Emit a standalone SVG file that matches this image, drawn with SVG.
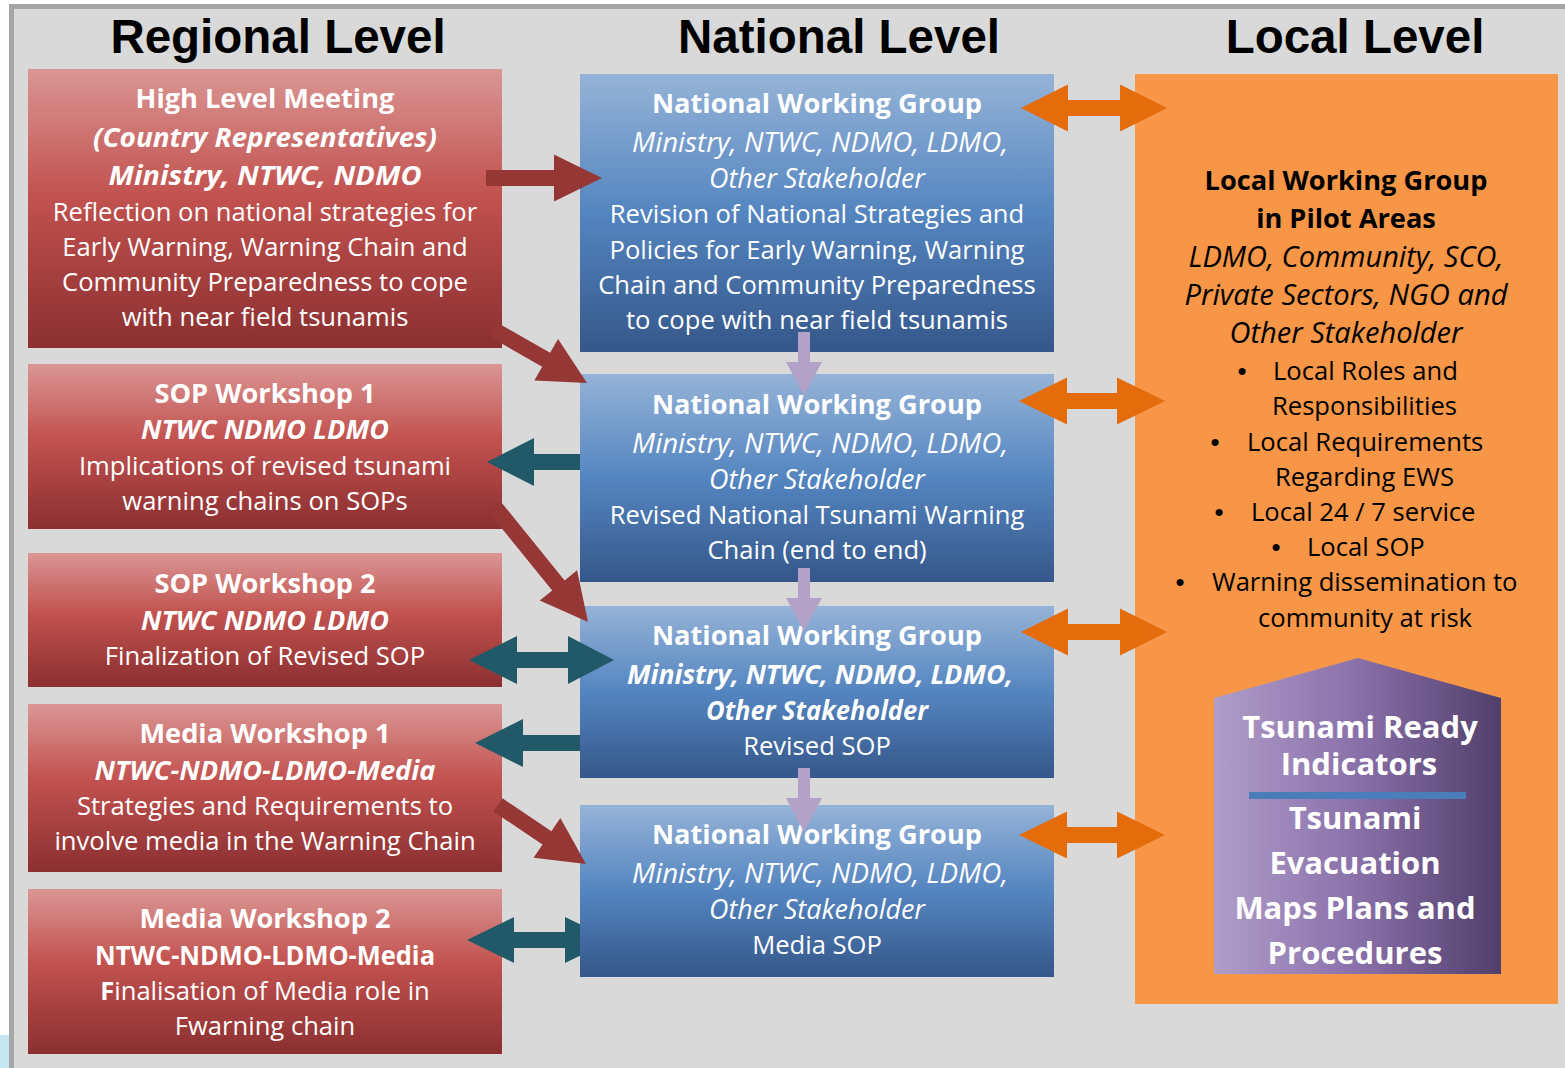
<svg xmlns="http://www.w3.org/2000/svg" width="1565" height="1068" viewBox="0 0 1565 1068">
<defs>
<linearGradient id="gRed" x1="0" y1="0" x2="0" y2="1">
<stop offset="0" stop-color="#da9694"/>
<stop offset="0.45" stop-color="#c2524f"/>
<stop offset="1" stop-color="#8b2f30"/>
</linearGradient>
<linearGradient id="gBlue" x1="0" y1="0" x2="0" y2="1">
<stop offset="0" stop-color="#95b3d7"/>
<stop offset="0.5" stop-color="#5485c0"/>
<stop offset="1" stop-color="#35578a"/>
</linearGradient>
<linearGradient id="gPurple" x1="0" y1="0" x2="1" y2="0">
<stop offset="0" stop-color="#b09dc9"/>
<stop offset="0.5" stop-color="#8a70a9"/>
<stop offset="1" stop-color="#513f6b"/>
</linearGradient>
</defs>
<style>
.hdr{font-family:"Liberation Sans",Arial,sans-serif;font-weight:bold;font-size:47.5px;fill:#000;text-anchor:middle}
.t{font-family:"Open Sans",Lato,sans-serif;font-size:25.6px;fill:#fff;text-anchor:middle}
.b{font-weight:bold;font-size:27.2px}
.i{font-style:italic;font-size:26.5px}
.oi{font-size:28.5px}
.k{fill:#000}
.ks{fill:#000;text-anchor:start}
.bul{font-family:"Liberation Sans",Arial,sans-serif;font-size:26px;fill:#000;text-anchor:middle}
.h{font-weight:bold;font-size:31px}
.red{fill:url(#gRed)}
.blue{fill:url(#gBlue)}
.ar{fill:#953735}
.at{fill:#215968}
.al{fill:#b3a2c7}
.ao{fill:#e46c0a}
</style>
<rect x="0" y="0" width="1565" height="1068" fill="#ffffff"/>
<rect x="0" y="1035" width="10" height="33" fill="#c6e5f2"/>
<rect x="9" y="4" width="1556" height="1064" fill="#a6a6a6"/>
<rect x="14" y="9" width="1551" height="1059" fill="#d9d9d9"/>
<text class="hdr" x="278" y="53">Regional Level</text>
<text class="hdr" x="839" y="53">National Level</text>
<text class="hdr" x="1355" y="53">Local Level</text>

<g id="hlm">
<rect class="red" x="28" y="69" width="474" height="279"/>
<text class="t b" x="265" y="108">High Level Meeting</text>
<text class="t b i" x="265" y="147" textLength="344" lengthAdjust="spacingAndGlyphs">(Country Representatives)</text>
<text class="t b i" x="265" y="185" textLength="313" lengthAdjust="spacingAndGlyphs">Ministry, NTWC, NDMO</text>
<text class="t" x="265" y="221">Reflection on national strategies for</text>
<text class="t" x="265" y="256">Early Warning, Warning Chain and</text>
<text class="t" x="265" y="291">Community Preparedness to cope</text>
<text class="t" x="265" y="326">with near field tsunamis</text>
</g>
<g id="sop1">
<rect class="red" x="28" y="364" width="474" height="165"/>
<text class="t b" x="265" y="403">SOP Workshop 1</text>
<text class="t b i" x="265" y="439" textLength="248" lengthAdjust="spacingAndGlyphs">NTWC NDMO LDMO</text>
<text class="t" x="265" y="475">Implications of revised tsunami</text>
<text class="t" x="265" y="510">warning chains on SOPs</text>
</g>
<g id="sop2">
<rect class="red" x="28" y="553" width="474" height="134"/>
<text class="t b" x="265" y="593">SOP Workshop 2</text>
<text class="t b i" x="265" y="630" textLength="248" lengthAdjust="spacingAndGlyphs">NTWC NDMO LDMO</text>
<text class="t" x="265" y="665">Finalization of Revised SOP</text>
</g>
<g id="media1">
<rect class="red" x="28" y="704" width="474" height="168"/>
<text class="t b" x="265" y="743">Media Workshop 1</text>
<text class="t b i" x="265" y="780" textLength="341" lengthAdjust="spacingAndGlyphs">NTWC-NDMO-LDMO-Media</text>
<text class="t" x="265" y="815">Strategies and Requirements to</text>
<text class="t" x="265" y="850">involve media in the Warning Chain</text>
</g>
<g id="media2">
<rect class="red" x="28" y="889" width="474" height="165"/>
<text class="t b" x="265" y="928">Media Workshop 2</text>
<text class="t b" x="265" y="965" textLength="340" lengthAdjust="spacingAndGlyphs">NTWC-NDMO-LDMO-Media</text>
<text class="t" x="265" y="1000"><tspan font-weight="bold">F</tspan>inalisation of Media role in</text>
<text class="t" x="265" y="1035">Fwarning chain</text>
</g>

<g id="nwg1">
<rect class="blue" x="580" y="74" width="474" height="278"/>
<text class="t b" x="817" y="113">National Working Group</text>
<text class="t i" x="820" y="152" textLength="376" lengthAdjust="spacingAndGlyphs">Ministry, NTWC, NDMO, LDMO,</text>
<text class="t i" x="817" y="188" textLength="216" lengthAdjust="spacingAndGlyphs">Other Stakeholder</text>
<text class="t" x="817" y="223">Revision of National Strategies and</text>
<text class="t" x="817" y="259">Policies for Early Warning, Warning</text>
<text class="t" x="817" y="294">Chain and Community Preparedness</text>
<text class="t" x="817" y="329">to cope with near field tsunamis</text>
</g>
<g id="nwg2">
<rect class="blue" x="580" y="374" width="474" height="208"/>
<text class="t b" x="817" y="414">National Working Group</text>
<text class="t i" x="820" y="453" textLength="376" lengthAdjust="spacingAndGlyphs">Ministry, NTWC, NDMO, LDMO,</text>
<text class="t i" x="817" y="489" textLength="216" lengthAdjust="spacingAndGlyphs">Other Stakeholder</text>
<text class="t" x="817" y="524">Revised National Tsunami Warning</text>
<text class="t" x="817" y="559">Chain (end to end)</text>
</g>
<g id="nwg3">
<rect class="blue" x="580" y="606" width="474" height="172"/>
<text class="t b" x="817" y="645">National Working Group</text>
<text class="t b i" x="820" y="684" textLength="386" lengthAdjust="spacingAndGlyphs">Ministry, NTWC, NDMO, LDMO,</text>
<text class="t b i" x="817" y="720" textLength="222" lengthAdjust="spacingAndGlyphs">Other Stakeholder</text>
<text class="t" x="817" y="755">Revised SOP</text>
</g>
<g id="nwg4">
<rect class="blue" x="580" y="805" width="474" height="172"/>
<text class="t b" x="817" y="844">National Working Group</text>
<text class="t i" x="820" y="883" textLength="376" lengthAdjust="spacingAndGlyphs">Ministry, NTWC, NDMO, LDMO,</text>
<text class="t i" x="817" y="919" textLength="216" lengthAdjust="spacingAndGlyphs">Other Stakeholder</text>
<text class="t" x="817" y="954">Media SOP</text>
</g>

<g id="lwg">
<rect x="1135" y="74" width="423" height="930" fill="#f79646"/>
<text class="t b k" x="1346" y="190">Local Working Group</text>
<text class="t b k" x="1346" y="228">in Pilot Areas</text>
<text class="t i oi k" x="1346" y="267" textLength="315" lengthAdjust="spacingAndGlyphs">LDMO, Community, SCO,</text>
<text class="t i oi k" x="1346" y="305" textLength="323" lengthAdjust="spacingAndGlyphs">Private Sectors, NGO and</text>
<text class="t i oi k" x="1346" y="343" textLength="233" lengthAdjust="spacingAndGlyphs">Other Stakeholder</text>
<text class="bul" x="1242" y="380">•</text>
<text class="t ks" x="1273" y="380">Local Roles and</text>
<text class="t ks" x="1272" y="415">Responsibilities</text>
<text class="bul" x="1215" y="451">•</text>
<text class="t ks" x="1247" y="451">Local Requirements</text>
<text class="t ks" x="1275" y="486">Regarding EWS</text>
<text class="bul" x="1219" y="521">•</text>
<text class="t ks" x="1251" y="521">Local 24 / 7 service</text>
<text class="bul" x="1276" y="556">•</text>
<text class="t ks" x="1307" y="556">Local SOP</text>
<text class="bul" x="1180" y="591">•</text>
<text class="t ks" x="1212" y="591">Warning dissemination to</text>
<text class="t ks" x="1258" y="627">community at risk</text>
</g>
<g id="tri">
<polygon points="1214,698 1358,658 1501,698 1501,974 1214,974" fill="url(#gPurple)"/>
<rect x="1249" y="792" width="217" height="7" fill="#4a7ebb"/>
<text class="t h" x="1360" y="738">Tsunami Ready</text>
<text class="t h" x="1359" y="775">Indicators</text>
<text class="t h" x="1355" y="829">Tsunami</text>
<text class="t h" x="1355" y="874">Evacuation</text>
<text class="t h" x="1355" y="919">Maps Plans and</text>
<text class="t h" x="1355" y="964">Procedures</text>
</g>

<g id="connectors">
<polygon class="ar" points="486,170 554,170 554,154.5 602,178 554,201.5 554,186 486,186"/>
<polygon class="ar" points="490.04,336.95 542.21,366.68 534.29,380.58 587,383 558.05,338.88 550.13,352.78 497.96,323.05"/>
<polygon class="ar" points="487.78,511.04 552.19,590.52 539.76,600.59 588,622 577.06,570.37 564.63,580.44 500.22,500.96"/>
<polygon class="ar" points="493.54,811.64 542.50,844.47 533.59,857.76 586,864 560.33,817.90 551.42,831.19 502.46,798.36"/>
<polygon class="at" points="580,454 534,454 534,438 487,462 534,486 534,470 580,470"/>
<polygon class="at" points="469,660 517,636 517,652 568,652 568,636 614,660 568,684 568,668 517,668 517,684"/>
<polygon class="at" points="580,735 523,735 523,719 475,743 523,767 523,751 580,751"/>
<polygon class="at" points="467,940 514,917 514,932 565,932 565,917 580,924.3 580,955.7 565,963 565,948 514,948 514,963"/>
<polygon class="al" points="798,332 810,332 810,362 822,362 804,395 786,362 798,362"/>
<polygon class="al" points="798,568 810,568 810,598 822,598 804,631 786,598 798,598"/>
<polygon class="al" points="798,768 810,768 810,798 822,798 804,832 786,798 798,798"/>
<polygon class="ao" points="1021,108 1068,84.5 1068,100 1120,100 1120,84.5 1167,108 1120,131.5 1120,116 1068,116 1068,131.5"/>
<polygon class="ao" points="1019,401 1067,377.5 1067,393 1117,393 1117,377.5 1165,401 1117,424.5 1117,409 1067,409 1067,424.5"/>
<polygon class="ao" points="1021,632 1068,608.5 1068,624 1120,624 1120,608.5 1167,632 1120,655.5 1120,640 1068,640 1068,655.5"/>
<polygon class="ao" points="1019,835 1067,811.5 1067,827 1117,827 1117,811.5 1165,835 1117,858.5 1117,843 1067,843 1067,858.5"/>
</g>
</svg>
